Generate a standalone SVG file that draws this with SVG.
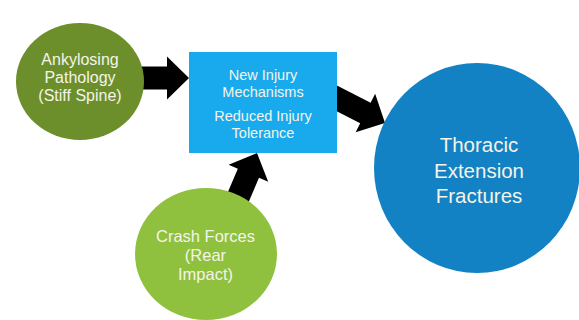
<svg xmlns="http://www.w3.org/2000/svg" xmlns:xlink="http://www.w3.org/1999/xlink" width="579" height="320" viewBox="0 0 579 320">
  <style>
    .lbl { font-family: "Liberation Sans", Arial, sans-serif; text-anchor: middle; fill: #f4f4ea; }
    .arrow { fill: #000000; }
  </style>
  <defs>
    <!-- block arrow pointing along +x, tip at the origin -->
    <path id="blockArrow" d="M0,0 L-22,-21.5 L-22,-11.5 L-62,-11.5 L-62,11.5 L-22,11.5 L-22,21.5 Z"/>
  </defs>
  <rect width="579" height="320" fill="#ffffff"/>

  <g id="connectors">
    <use class="arrow" xlink:href="#blockArrow" href="#blockArrow" transform="translate(189,78)"/>
    <use class="arrow" xlink:href="#blockArrow" href="#blockArrow" transform="translate(257,153) rotate(-67)"/>
    <use class="arrow" xlink:href="#blockArrow" href="#blockArrow" transform="translate(385,123) rotate(27)"/>
  </g>

  <g id="ankylosing">
    <ellipse cx="80" cy="81.5" rx="64" ry="58.5" fill="#6d8f2b"/>
    <text class="lbl" font-size="16" x="80"><tspan x="80" y="65">Ankylosing</tspan><tspan x="80" y="83">Pathology</tspan><tspan x="80" y="101">(Stiff Spine)</tspan></text>
  </g>

  <g id="mechanisms">
    <rect x="189" y="52" width="148" height="101" fill="#19aaed"/>
    <text class="lbl" font-size="14.5"><tspan x="263" y="80">New Injury</tspan><tspan x="263" y="97">Mechanisms</tspan><tspan x="263" y="121">Reduced Injury</tspan><tspan x="263" y="138">Tolerance</tspan></text>
  </g>

  <g id="crash">
    <ellipse cx="206" cy="254" rx="71" ry="66" fill="#8fc13f"/>
    <text class="lbl" font-size="16.5"><tspan x="205.5" y="242">Crash Forces</tspan><tspan x="205.5" y="261">(Rear</tspan><tspan x="205.5" y="280">Impact)</tspan></text>
  </g>

  <g id="fractures">
    <ellipse cx="477" cy="168" rx="103" ry="105" fill="#1282c4"/>
    <text class="lbl" font-size="20.5"><tspan x="479" y="152">Thoracic</tspan><tspan x="479" y="177.5">Extension</tspan><tspan x="479" y="203">Fractures</tspan></text>
  </g>
</svg>
